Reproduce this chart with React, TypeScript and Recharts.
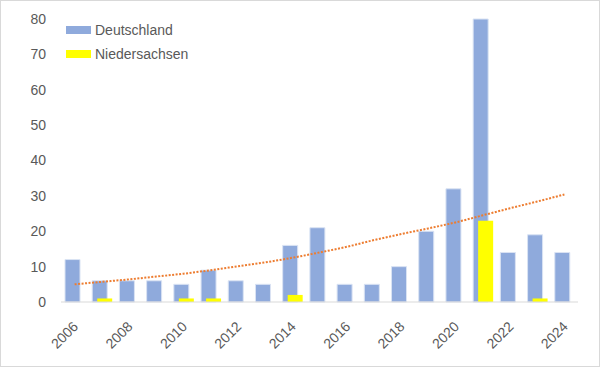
import React from 'react';
import { ComposedChart, Bar, Line, XAxis, YAxis } from 'recharts';

const years = ['2006', '2007', '2008', '2009', '2010', '2011', '2012', '2013', '2014', '2015', '2016', '2017', '2018', '2019', '2020', '2021', '2022', '2023', '2024'];
const deutschland = [12, 6, 6, 6, 5, 9, 6, 5, 16, 21, 5, 5, 10, 20, 32, 80, 14, 19, 14];
const niedersachsen = [0, 1, 0, 0, 1, 1, 0, 0, 2, 0, 0, 0, 0, 0, 0, 23, 0, 1, 0];
// trend line (Excel exponential trend)
const trend = [5.0, 5.7, 6.4, 7.2, 8.0, 9.0, 10.1, 11.2, 12.5, 14.0, 15.6, 17.5, 19.2, 20.8, 22.5, 24.5, 26.5, 28.4, 30.4];
const yTicks = [0, 10, 20, 30, 40, 50, 60, 70, 80];

const data = years.map((y, i) => ({
  year: y,
  de: deutschland[i],
  nds: niedersachsen[i],
  trend: trend[i],
}));

const font = '"Liberation Sans", Arial, sans-serif';

const YearTick = (props: any) => {
  const { x, y, payload } = props;
  return (
    <g transform={`translate(${x + 1},${y + 14})`}>
      <text transform="rotate(-45)" textAnchor="end" dy="0.35em" fill="#595959" fontSize={14} fontFamily={font}>
        {payload.value}
      </text>
    </g>
  );
};

const legendItems = [
  { name: 'Deutschland', color: '#8FAADC' },
  { name: 'Niedersachsen', color: '#FFFF00' },
];

export default function App() {
  return (
    <div style={{ position: 'fixed', top: 0, left: 0, width: 598, height: 365, border: '1px solid #d9d9d9', background: '#fff' }}>
      <ComposedChart width={598} height={365} data={data} margin={{ top: 18, right: 21, left: 0, bottom: 0 }} barSize={15} barGap={-10}>
        <XAxis dataKey="year" interval={1} height={64} tickLine={false} axisLine={{ stroke: '#d9d9d9' }} tick={<YearTick />} />
        <YAxis
          domain={[0, 80]}
          ticks={yTicks}
          width={60}
          axisLine={false}
          tickLine={false}
          tickSize={0}
          tickMargin={15}
          tick={{ fill: '#595959', fontSize: 14, fontFamily: font }}
        />
        <Bar dataKey="de" name="Deutschland" fill="#8FAADC" stroke="#dae3f3" strokeWidth={1} isAnimationActive={false} />
        <Bar dataKey="nds" name="Niedersachsen" fill="#FFFF00" isAnimationActive={false} />
        <Line dataKey="trend" type="monotone" stroke="#ED7D31" strokeWidth={2} strokeDasharray="2 1.5" dot={false} activeDot={false} isAnimationActive={false} />
      </ComposedChart>
      <div style={{ position: 'absolute', left: 65, top: 17, fontFamily: font, fontSize: 14, color: '#595959' }}>
        {legendItems.map((it) => (
          <div key={it.name} style={{ display: 'flex', alignItems: 'center', height: 24 }}>
            <span style={{ display: 'inline-block', width: 25, height: 8, background: it.color, marginRight: 4 }} />
            {it.name}
          </div>
        ))}
      </div>
    </div>
  );
}
